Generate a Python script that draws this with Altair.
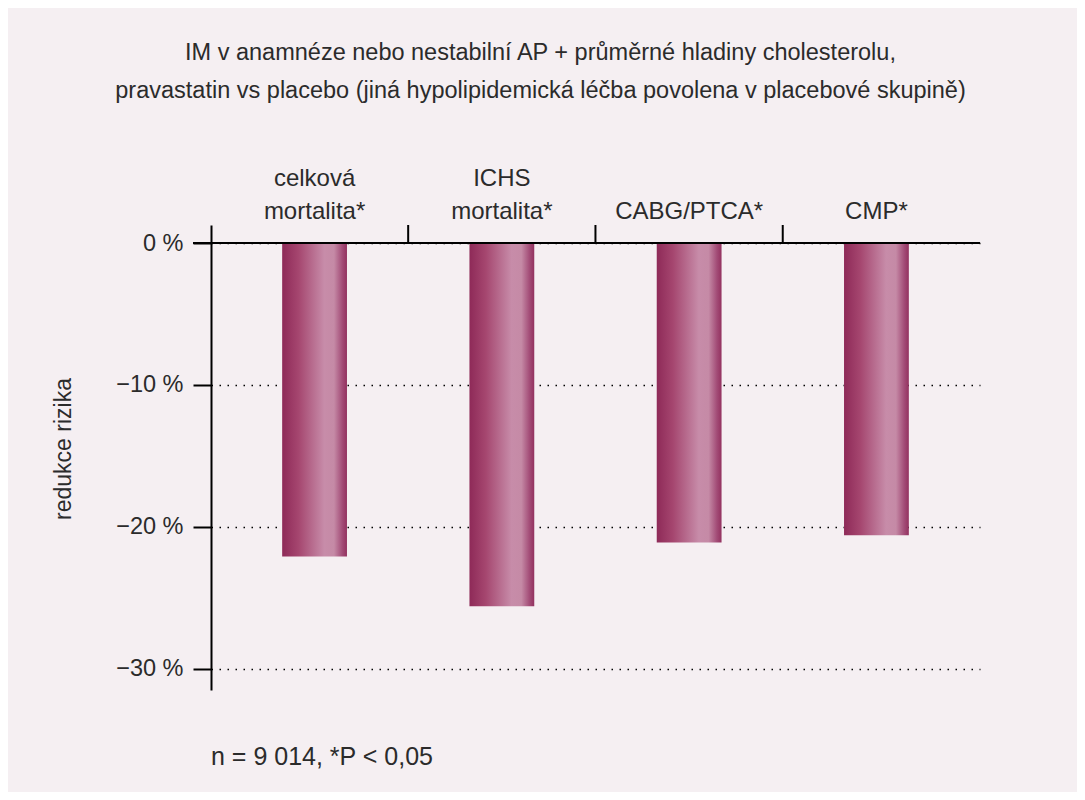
import altair as alt
import pandas as pd

# values
# "|" splits a label into lines; single-line labels get an empty first line
categories = ["celková|mortalita*", "ICHS|mortalita*", "|CABG/PTCA*", "|CMP*"]
risk_reduction = [-22.1, -25.6, -21.1, -20.6]
y_ticks = [0, -10, -20, -30]
title_lines = [
    "IM v anamnéze nebo nestabilní AP + průměrné hladiny cholesterolu,",
    "pravastatin vs placebo (jiná hypolipidemická léčba povolena v placebové skupině)",
]
y_title = "redukce rizika"
footnote = "n = 9 014, *P < 0,05"

font = "Liberation Sans"
ink = "#2b2b2b"
bg = "#f5eff2"
W, H = 769, 465

bars_df = pd.DataFrame({"cat": categories, "value": risk_reduction})
divider_df = pd.DataFrame({"cat": categories[:3]})
note_df = pd.DataFrame({"t": [footnote]})

bar_fill = alt.LinearGradient(
    gradient="linear",
    stops=[
        alt.GradientStop(color="#8e2a58", offset=0),
        alt.GradientStop(color="#a5466f", offset=0.25),
        alt.GradientStop(color="#c78ca9", offset=0.65),
        alt.GradientStop(color="#c58aa6", offset=0.8),
        alt.GradientStop(color="#a24b76", offset=0.93),
        alt.GradientStop(color="#93315f", offset=1),
    ],
    x1=0, x2=1, y1=0, y2=0,
)

x_scale = alt.Scale(paddingInner=0.654, paddingOuter=0.38)
y_scale = alt.Scale(domain=[-31.5, 1.27], nice=False, zero=False)

bars = alt.Chart(bars_df).mark_bar(color=bar_fill).encode(
    x=alt.X("cat:N", sort=categories, scale=x_scale, title=None,
            axis=alt.Axis(orient="top", domain=False, ticks=False,
                          labelAngle=0, labelFont=font, labelFontSize=24,
                          labelColor=ink, labelBaseline="alphabetic",
                          labelPadding=40, labelLineHeight=33,
                          labelExpr="split(datum.label, '|')")),
    y=alt.Y("value:Q", scale=y_scale, title=y_title,
            axis=alt.Axis(values=y_ticks, tickSize=18, tickWidth=2,
                          tickColor="black", domainColor="black",
                          domainWidth=2, labelPadding=10, labelFont=font,
                          labelFontSize=23.5, labelColor=ink,
                          labelExpr="datum.value == 0 ? '0 %' : '\u2212' + abs(datum.value) + ' %'",
                          grid=True, gridColor="black", gridDash=[1.5, 6.5],
                          gridWidth=1.5, titleFont=font, titleFontSize=23,
                          titleFontWeight="normal", titleColor=ink,
                          titleX=-148, titleY=H / 2 - 9, titleAlign="center",
                          titleBaseline="middle", titleAngle=-90)),
)

zero_line = alt.Chart(note_df).mark_rule(color="black", strokeWidth=2).encode(
    y=alt.datum(0), x=alt.value(-18), x2=alt.value(W)
)

dividers = alt.Chart(divider_df).mark_rule(color="black", strokeWidth=2, xOffset=93.6).encode(
    x=alt.X("cat:N", sort=categories),
    y=alt.datum(0),
    y2=alt.value(0),
)

note = alt.Chart(note_df).mark_text(
    align="left", baseline="middle", font=font, fontSize=25, color=ink
).encode(text="t:N", x=alt.value(0), y=alt.value(532))

chart = alt.layer(bars, zero_line, dividers, note).properties(
    width=W,
    height=H,
    background=bg,
    autosize=alt.AutoSizeParams(type="none"),
    padding={"left": 203, "top": 217, "right": 97, "bottom": 102},
    title=alt.TitleParams(
        text=title_lines, font=font, fontSize=23.5, fontWeight="normal",
        color=ink, lineHeight=38, anchor="middle", frame="group",
        dx=-55, offset=64,
    ),
).configure_view(stroke=None)

chart.save("out.html", embed_options={"renderer": "svg", "actions": False})
